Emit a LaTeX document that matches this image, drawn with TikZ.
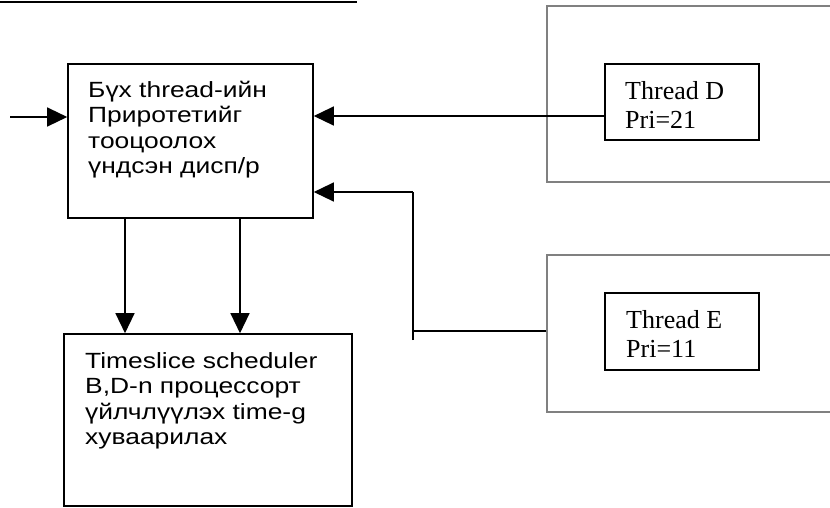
\documentclass[tikz,border=0pt]{standalone}
\usepackage{fontspec}
\setmainfont{Liberation Serif}
\newfontfamily\arialw[FakeStretch=1.2]{Liberation Sans}
\usepackage{tikz}
\usetikzlibrary{arrows.meta}
\usetikzlibrary{positioning}
\definecolor{framegray}{rgb}{0.5,0.5,0.5}

\begin{document}
\begin{tikzpicture}[x=1pt,y=-1pt,line cap=butt,line join=miter,
  arr/.style={line width=1.3pt,-{Triangle[length=20pt,width=19pt]}},
  wire/.style={line width=1.3pt},
  blockbox/.style={draw,line width=1.6pt,inner sep=0pt},
  framebox/.style={draw=framegray,line width=1.6pt,inner sep=0pt},
  sanstxt/.style={inner sep=0pt,align=left,anchor=base west,
    font=\arialw\fontsize{22}{25.5}\selectfont},
  sertxt/.style={inner sep=0pt,align=left,anchor=base west,
    font=\fontsize{26}{28.6}\selectfont}]
\useasboundingbox (0,0) rectangle (830,507);
\clip (0,0) rectangle (830,507);
\draw[line width=2.2pt] (0,2) -- (357,2);
% main blocks
\node[blockbox,minimum width=245pt,minimum height=154pt] (prio) at (190.5,141) {};
\node[blockbox,minimum width=288pt,minimum height=172pt] (sched) at (208,420) {};
\node[sanstxt] (priotxt) at (88,173.5) {Бүх thread-ийн\\Приротетийг\\тооцоолох\\үндсэн дисп/р};
\node[sanstxt] (schedtxt) at (85,444.5) {Timeslice scheduler\\B,D-n процессорт\\үйлчлүүлэх time-g\\хуваарилах};
% thread frames
\node[framebox,minimum width=288pt,minimum height=176pt] (outD) at (691,94) {};
\node[framebox,minimum width=288pt,minimum height=157pt] (outE) at (691,333.5) {};
\node[blockbox,minimum width=154pt,minimum height=76pt] (thrD) at (682,102) {};
\node[blockbox,minimum width=154pt,minimum height=77pt] (thrE) at (682,331.5) {};
\node[sertxt] (thrDtxt) at (625,128) {Thread D\\Pri=21};
\node[sertxt] (thrEtxt) at (626,357) {Thread E\\Pri=11};
% connectors
\coordinate (src) at (10,117);
\draw[arr] (src) -- (src -| prio.west);
\coordinate (dline) at ([yshift=-14pt]thrD.west);
\draw[arr] (dline) -- (dline -| prio.east);
\coordinate (ecorner) at (413,331);
\coordinate (estub) at (413,340);
\coordinate (etop) at (413,192);
\draw[wire] (ecorner -| outE.west) -- (ecorner);
\draw[wire] (estub) -- (etop);
\draw[arr] (etop) -- (etop -| prio.east);
\draw[arr] ([xshift=-65.5pt]prio.south) -- ([xshift=-65.5pt]prio.south |- sched.north);
\draw[arr] ([xshift=49.5pt]prio.south) -- ([xshift=49.5pt]prio.south |- sched.north);
\end{tikzpicture}
\end{document}
